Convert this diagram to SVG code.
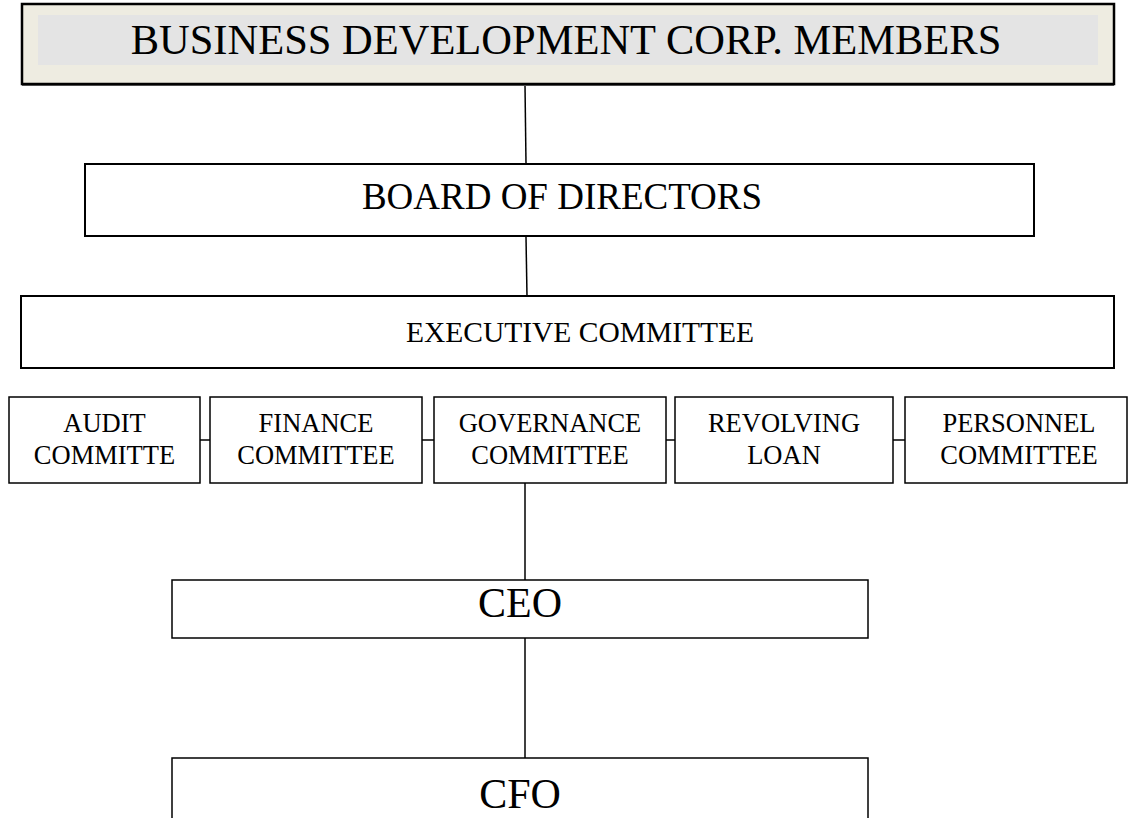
<svg xmlns="http://www.w3.org/2000/svg" width="1128" height="818" viewBox="0 0 1128 818">
<style>
.box{fill:#fff;stroke:#000;stroke-width:2}
.thin{fill:#fff;stroke:#000;stroke-width:1.5}
.t{font-family:"Liberation Serif","Times New Roman",serif;fill:#000;text-anchor:middle}
.s{font-size:26.5px}
.c{stroke:#000;stroke-width:1.5;fill:none}
</style>
<rect width="1128" height="818" fill="#fff"/>
<g id="connectors">
<line class="c" x1="525" y1="85" x2="526" y2="164"/>
<line class="c" x1="526" y1="237" x2="527" y2="296"/>
<line class="c" x1="200" y1="440" x2="210" y2="440"/>
<line class="c" x1="422" y1="440" x2="434" y2="440"/>
<line class="c" x1="666" y1="440" x2="675" y2="440"/>
<line class="c" x1="893" y1="440" x2="905" y2="440"/>
<line class="c" x1="525" y1="483" x2="525" y2="580"/>
<line class="c" x1="525" y1="638" x2="525" y2="758"/>
</g>
<g id="members">
<rect x="22" y="6" width="1092" height="80" fill="#666"/>
<rect x="22" y="4" width="1092" height="80" fill="#EEECE1" stroke="#000" stroke-width="2.5"/>
<rect x="38" y="15" width="1060" height="50" fill="#E4E4E4"/>
<text class="t" x="566" y="54" font-size="42.5">BUSINESS DEVELOPMENT CORP. MEMBERS</text>
</g>
<g id="board">
<rect class="box" x="85" y="164" width="949" height="72"/>
<text class="t" x="562" y="209" font-size="37">BOARD OF DIRECTORS</text>
</g>
<g id="executive">
<rect class="box" x="21" y="296" width="1093" height="72"/>
<text class="t" x="580" y="342" font-size="29.5">EXECUTIVE COMMITTEE</text>
</g>
<g id="audit">
<rect class="thin" x="9" y="397" width="191" height="86"/>
<text class="t s" x="104.5" y="432">AUDIT</text>
<text class="t s" x="104.5" y="464">COMMITTE</text>
</g>
<g id="finance">
<rect class="thin" x="210" y="397" width="212" height="86"/>
<text class="t s" x="316" y="432">FINANCE</text>
<text class="t s" x="316" y="464">COMMITTEE</text>
</g>
<g id="governance">
<rect class="thin" x="434" y="397" width="232" height="86"/>
<text class="t s" x="550" y="432">GOVERNANCE</text>
<text class="t s" x="550" y="464">COMMITTEE</text>
</g>
<g id="revolving">
<rect class="thin" x="675" y="397" width="218" height="86"/>
<text class="t s" x="784" y="432">REVOLVING</text>
<text class="t s" x="784" y="464">LOAN</text>
</g>
<g id="personnel">
<rect class="thin" x="905" y="397" width="222" height="86"/>
<text class="t s" x="1019" y="432">PERSONNEL</text>
<text class="t s" x="1019" y="464">COMMITTEE</text>
</g>
<g id="ceo">
<rect class="thin" x="172" y="580" width="696" height="58"/>
<text class="t" x="520" y="617" font-size="42">CEO</text>
</g>
<g id="cfo">
<rect class="thin" x="172" y="758" width="696" height="80"/>
<text class="t" x="520" y="808" font-size="42">CFO</text>
</g>
</svg>
